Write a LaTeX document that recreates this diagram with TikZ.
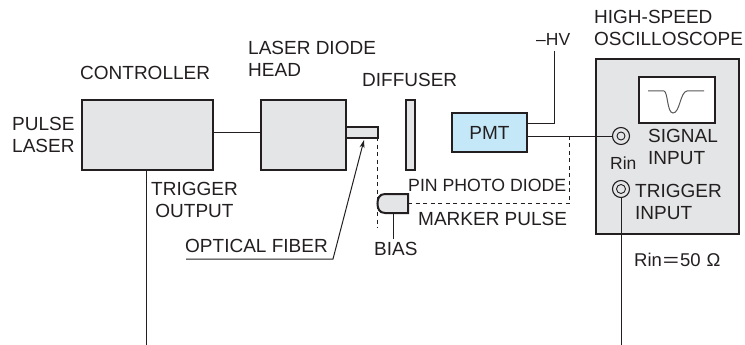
\documentclass[tikz,border=0pt]{standalone}
\usepackage{fontspec}
\setmainfont{Liberation Sans}
\definecolor{ink}{HTML}{231F20}
\definecolor{boxgray}{HTML}{E4E5E6}
\definecolor{pmtblue}{HTML}{C5E8F9}
\usetikzlibrary{arrows.meta}
\tikzset{
  unitbox/.style={draw=ink,line width=2pt,fill=boxgray,inner sep=0pt,anchor=north west},
  thin line/.style={draw=ink,line width=1pt},
  dash line/.style={draw=ink,line width=1pt,dash pattern=on 4pt off 3.5pt},
  lab/.style={text=ink,inner sep=0pt,anchor=west,align=left,font=\fontsize{19}{22}\selectfont},
  jack/.style={circle,draw=ink,line width=1.1pt,fill=boxgray,inner sep=0pt,minimum size=#1}
}
\begin{document}
\begin{tikzpicture}[x=1pt,y=-1pt]
\useasboundingbox (0,0) rectangle (745,345);
% boxes
\node[unitbox,minimum width=131pt,minimum height=70pt] (ctrl) at (81,99) {};
\node[unitbox,minimum width=85pt,minimum height=70pt] (head) at (260,99) {};
\node[unitbox,minimum width=32pt,minimum height=11pt] (fiber) at (345,126) {};
\node[unitbox,minimum width=9pt,minimum height=70pt] (diff) at (405,99) {};
\node[unitbox,fill=pmtblue,minimum width=75pt,minimum height=39pt,font=\fontsize{19}{22}\selectfont,text=ink] (pmt) at (451,112) {PMT};
\node[unitbox,minimum width=143pt,minimum height=175pt] (osc) at (595,58) {};
\node[unitbox,fill=white,minimum width=76pt,minimum height=46pt] (screen) at (638,76) {};
% helper coordinates
\coordinate (trigA) at (146.5,345);
\coordinate (trigB) at (621,345);
\coordinate (hvtop) at (554,51);
\coordinate (hvknee) at (554,123);
\coordinate (sigpt) at (526,136);
\coordinate (fibarrow) at (364,140);
\coordinate (fibtail) at (333,259);
\coordinate (fibend) at (186,259);
\coordinate (dashtop) at (377,137);
\coordinate (dashbot) at (377,228);
\coordinate (dashR) at (569,203.5);
\coordinate (dashRtop) at (569,136);
\coordinate (biasend) at (393,239);
% PIN diode
\coordinate (pinE) at (408,203.5);
\coordinate (pinS) at (393,213);
\draw[ink,line width=2pt,fill=boxgray] (408,194) -- (385,194) .. controls (379,194) and (377.5,199) .. (377.5,203.5) .. controls (377.5,208) and (379,213) .. (385,213) -- (408,213) -- cycle;
% jacks
\node[jack=17pt] (sig) at (621,136) {};
\node[circle,draw=ink,line width=0.9pt,inner sep=0pt,minimum size=8pt] (sigin) at (621,136) {};
\node[jack=17pt] (trg) at (621,189) {};
\node[circle,draw=ink,line width=0.9pt,inner sep=0pt,minimum size=9pt] (trgin) at (621,189) {};
% connectors
\draw[thin line] (ctrl.east |- 0,132) -- (head.west |- 0,132);
\draw[thin line] (ctrl.south -| trigA) -- (trigA);
\draw[thin line] (trg.south) -- (trigB);
\draw[thin line] (sigpt) -- (sig.west);
\draw[thin line] (pmt.east |- hvknee) -- (hvknee) -- (hvtop);
\draw[thin line] (pinS) -- (biasend);
\draw[thin line,-{Stealth[length=8pt,width=5pt]}] (fibend) -- (fibtail) -- (fibarrow);
\draw[dash line] (dashtop) -- (dashbot);
\draw[dash line] (pinE) -- (dashR) -- (dashRtop);
% trace
\draw[ink!75,line width=1pt] (648,91) -- (664,91) .. controls (668,92) and (667,113) .. (673,113) .. controls (680,113) and (680,92) .. (687,91) -- (704,91);
% labels
\node[lab] (tctrl) at (80,73) {CONTROLLER};
\node[lab] (tpulse) at (12,135) {PULSE\\LASER};
\node[lab] (thead) at (248,59) {LASER DIODE\\HEAD};
\node[lab] (tdiff) at (362,80) {DIFFUSER};
\node[lab,align=center] (ttrig) at (151,199.5) {TRIGGER\\OUTPUT};
\node[lab] (tfib) at (185,246) {OPTICAL FIBER};
\node[lab,font=\fontsize{17.7}{22}\selectfont] (tpin) at (408,185) {PIN PHOTO DIODE};
\node[lab] (tmark) at (418,219) {MARKER PULSE};
\node[lab] (tbias) at (374,249) {BIAS};
\node[lab,font=\fontsize{17.5}{22}\selectfont] (thv) at (536,39) {–HV};
\node[lab] (tosc) at (594,28) {HIGH-SPEED\\OSCILLOSCOPE};
\node[lab] (tsig) at (648,147) {SIGNAL\\INPUT};
\node[lab,font=\fontsize{17.5}{22}\selectfont] (trin) at (610,163) {Rin};
\node[lab] (ttin) at (635,201.5) {TRIGGER\\INPUT};
\node[lab,font=\fontsize{18.5}{20}\selectfont] (trin50) at (634,260) {Rin\hspace{1pt}\scalebox{1.5}[1]{=}\hspace{1pt}50\hspace{6pt}Ω};
\end{tikzpicture}
\end{document}
